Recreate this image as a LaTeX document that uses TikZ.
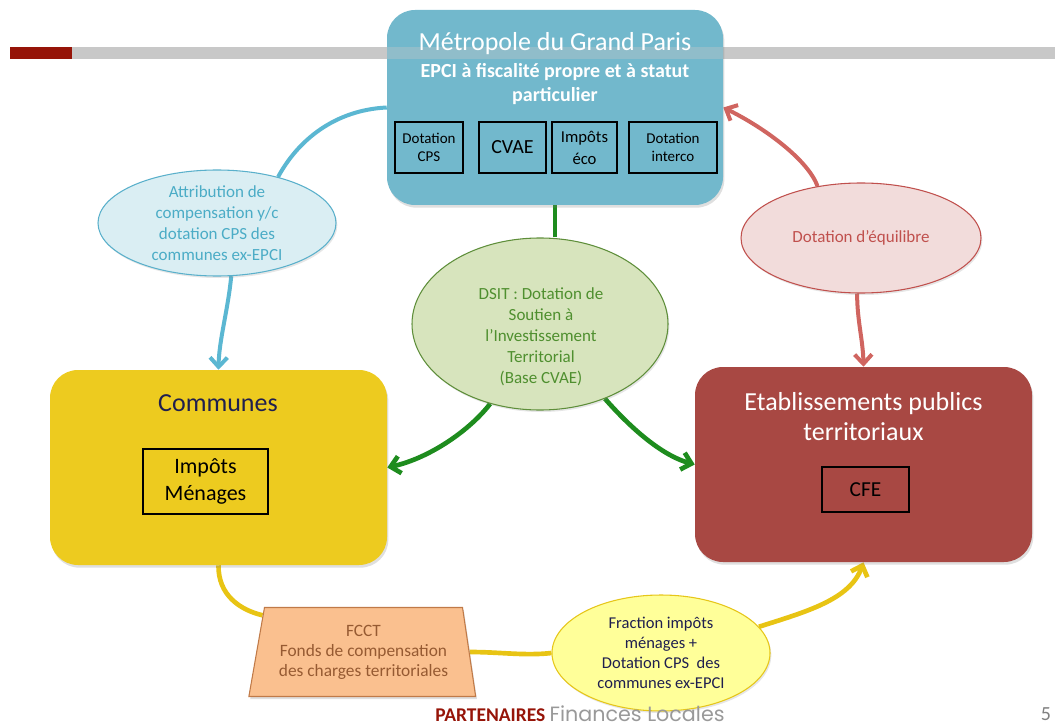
\documentclass[tikz,border=0pt]{standalone}
\usepackage{fontspec}
\setmainfont{Carlito}
\newfontfamily\popfont{Poppins}
\usetikzlibrary{shapes.geometric,arrows.meta,shadows}
\definecolor{barGray}{HTML}{C8C8C8}
\definecolor{barRed}{HTML}{961408}
\definecolor{mgpBlue}{HTML}{72B8CC}
\definecolor{comYel}{HTML}{EDCB1F}
\definecolor{eptRed}{HTML}{A84843}
\definecolor{navy}{HTML}{1F1F4F}
\definecolor{attFill}{HTML}{DAEEF3}
\definecolor{attDraw}{HTML}{5AB0CB}
\definecolor{attText}{HTML}{4BACC6}
\definecolor{blueLine}{HTML}{5BB7D2}
\definecolor{dsitFill}{HTML}{D7E4BD}
\definecolor{dsitDraw}{HTML}{5E8E3A}
\definecolor{dsitText}{HTML}{4F8F2F}
\definecolor{greenLine}{HTML}{1E8C1E}
\definecolor{eqFill}{HTML}{F2DCDB}
\definecolor{eqDraw}{HTML}{C0504D}
\definecolor{eqText}{HTML}{C0504D}
\definecolor{redLine}{HTML}{D06560}
\definecolor{fcctFill}{HTML}{FAC08F}
\definecolor{fcctDraw}{HTML}{C07A48}
\definecolor{fcctText}{HTML}{965A32}
\definecolor{frFill}{HTML}{FFFF99}
\definecolor{frDraw}{HTML}{E6C619}
\definecolor{yelLine}{HTML}{E8C414}
\pgfdeclarelayer{bg}
\pgfsetlayers{bg,main}
\begin{document}
\begin{tikzpicture}[x=0.75pt,y=-0.75pt,
  bigbox/.style={rounded corners=21pt, minimum width=252.75pt, minimum height=146.25pt, inner sep=0pt,
    drop shadow={opacity=0.25, shadow xshift=1pt, shadow yshift=-2pt}},
  inbox/.style={draw=black, line width=0.8pt, inner sep=0pt, align=center, text=black},
  ell/.style={ellipse, inner sep=0pt, align=center, line width=0.8pt,
    drop shadow={opacity=0.2, shadow xshift=1pt, shadow yshift=-1.5pt}},
  elltext/.style={font=\fontsize{12.75}{15.75}\selectfont},
  conn/.style={line width=3pt},
  arr/.style={-{Straight Barb[length=7pt,width=13pt]}},
  bline/.style={conn, draw=blueLine},
  gline/.style={conn, line width=3.5pt, draw=greenLine},
  rline/.style={conn, draw=redLine},
  yline/.style={conn, line width=3.5pt, draw=yelLine},
]
\useasboundingbox (0,0) rectangle (1055,727);

% header bar
\begin{pgfonlayer}{bg}
\fill[barGray] (72,47) rectangle (1055,59);
\fill[barRed] (10,47) rectangle (72,59);
\end{pgfonlayer}

% main boxes
\node[bigbox, fill=mgpBlue, minimum width=252pt] (mgp) at (555,107.5) {};
\fill[barGray, opacity=0.35] (387,47) rectangle (723,59);
\node[text=white, font=\fontsize{19.5}{23}\selectfont] (mgpT) at (555,44) {Métropole du Grand Paris};
\node[text=white, align=center, font=\bfseries\fontsize{15}{18}\selectfont] (mgpS) at (555,84) {EPCI à fiscalité propre et à statut\\particulier};
\node[inbox, minimum width=51pt, minimum height=38.25pt, font=\fontsize{11.25}{13.5}\selectfont] (b1) at (429,147.5) {Dotation\\CPS};
\node[inbox, minimum width=50.25pt, minimum height=38.25pt, font=\fontsize{15}{18}\selectfont] (b2) at (512.5,147.5) {CVAE};
\node[inbox, minimum width=48.75pt, minimum height=38.25pt, font=\fontsize{12.5}{16.5}\selectfont] (b3) at (584.5,147.5) {Impôts\\éco};
\node[inbox, minimum width=66pt, minimum height=38.25pt, font=\fontsize{11.25}{13.5}\selectfont] (b4) at (673,147.5) {Dotation\\interco};

\node[bigbox, fill=comYel] (com) at (218.5,467.5) {};
\node[text=navy, font=\fontsize{19.5}{23}\selectfont] (comT) at (218,403) {Communes};
\node[inbox, minimum width=93.75pt, minimum height=48.75pt, font=\fontsize{16.5}{20}\selectfont] (imp) at (205.5,481.5) {Impôts\\Ménages};

\node[bigbox, fill=eptRed] (ept) at (863.5,464.5) {};
\node[text=white, align=center, font=\fontsize{19.5}{22.5}\selectfont] (eptT) at (863.5,417) {Etablissements publics\\territoriaux};
\node[inbox, minimum width=65.25pt, minimum height=33.75pt, font=\fontsize{16}{19}\selectfont] (cfe) at (865.5,489.5) {CFE};

% ellipses
\node[ell, fill=attFill, draw=attDraw, text=attText, minimum width=178.5pt, minimum height=79.5pt, elltext] (attrib) at (217,223)
  {Attribution de\\compensation y/c\\dotation CPS des\\communes ex-EPCI};
\node[ell, fill=dsitFill, draw=dsitDraw, text=dsitText, minimum width=192pt, minimum height=129pt, elltext] (dsit) at (540,324) {};
\node[text=dsitText, align=center, elltext] (dsitT) at (541,337)
  {DSIT : Dotation de\\Soutien à\\l’Investissement\\Territorial\\(Base CVAE)};
\node[ell, fill=eqFill, draw=eqDraw, text=eqText, minimum width=180pt, minimum height=82.5pt, elltext] (eq) at (861,238) {Dotation d’équilibre};
\node[trapezium, trapezium stretches=true, trapezium left angle=77, trapezium right angle=79,
  fill=fcctFill, draw=fcctDraw, line width=0.8pt, minimum width=170.25pt, minimum height=66.75pt,
  inner sep=2pt, align=center, text=fcctText, font=\fontsize{13}{15}\selectfont,
  drop shadow={opacity=0.25, shadow xshift=1pt, shadow yshift=-2pt}] (fcct) at (363.5,652)
  {FCCT\\Fonds de compensation\\des charges territoriales};
\node[ell, fill=frFill, draw=frDraw, text=navy, minimum width=163.5pt, minimum height=87pt,
  font=\fontsize{12.4}{15}\selectfont] (fr) at (661,653)
  {Fraction impôts\\ménages +\\Dotation CPS~ des\\communes ex-EPCI};

% connectors
\begin{pgfonlayer}{bg}
\draw[bline] (mgp.west) .. controls (335,110) and (298,140) .. (attrib.37);
\draw[bline, arr] (attrib.285) .. controls (228,310) and (219,340) .. (com.north);
\draw[gline] (mgp.south) -- (mgp.south |- dsit.north);
\draw[gline, arr] (dsit.238) .. controls (470,430) and (430,458) .. (com.east);
\draw[gline, arr] (dsit.311) .. controls (628,425) and (660,455) .. (ept.west);
\draw[rline, arr] (eq.130) .. controls (808,160) and (765,128) .. (mgp.east);
\draw[rline, arr] (eq.266) .. controls (857,320) and (863,340) .. (ept.north);
\draw[yline] (com.south) .. controls (218,595) and (240,610) .. (fcct.160);
\draw[yline] (fcct.east) .. controls (500,652) and (525,656) .. (fr.west);
\draw[yline, arr] (fr.15) .. controls (805,612) and (850,600) .. (ept.south);
\end{pgfonlayer}

% footer
\node[anchor=base west, inner sep=0pt, font=\fontsize{14.6}{17}\selectfont] (foot) at (435,721)
  {\textcolor{barRed}{\bfseries PARTENAIRES} \textcolor{gray!80}{\popfont\fontsize{15.5}{17}\selectfont Finances Locales}};
\node[anchor=base, inner sep=0pt, text=gray, font=\fontsize{15}{17}\selectfont] (pnum) at (1046,720) {5};
\end{tikzpicture}
\end{document}
